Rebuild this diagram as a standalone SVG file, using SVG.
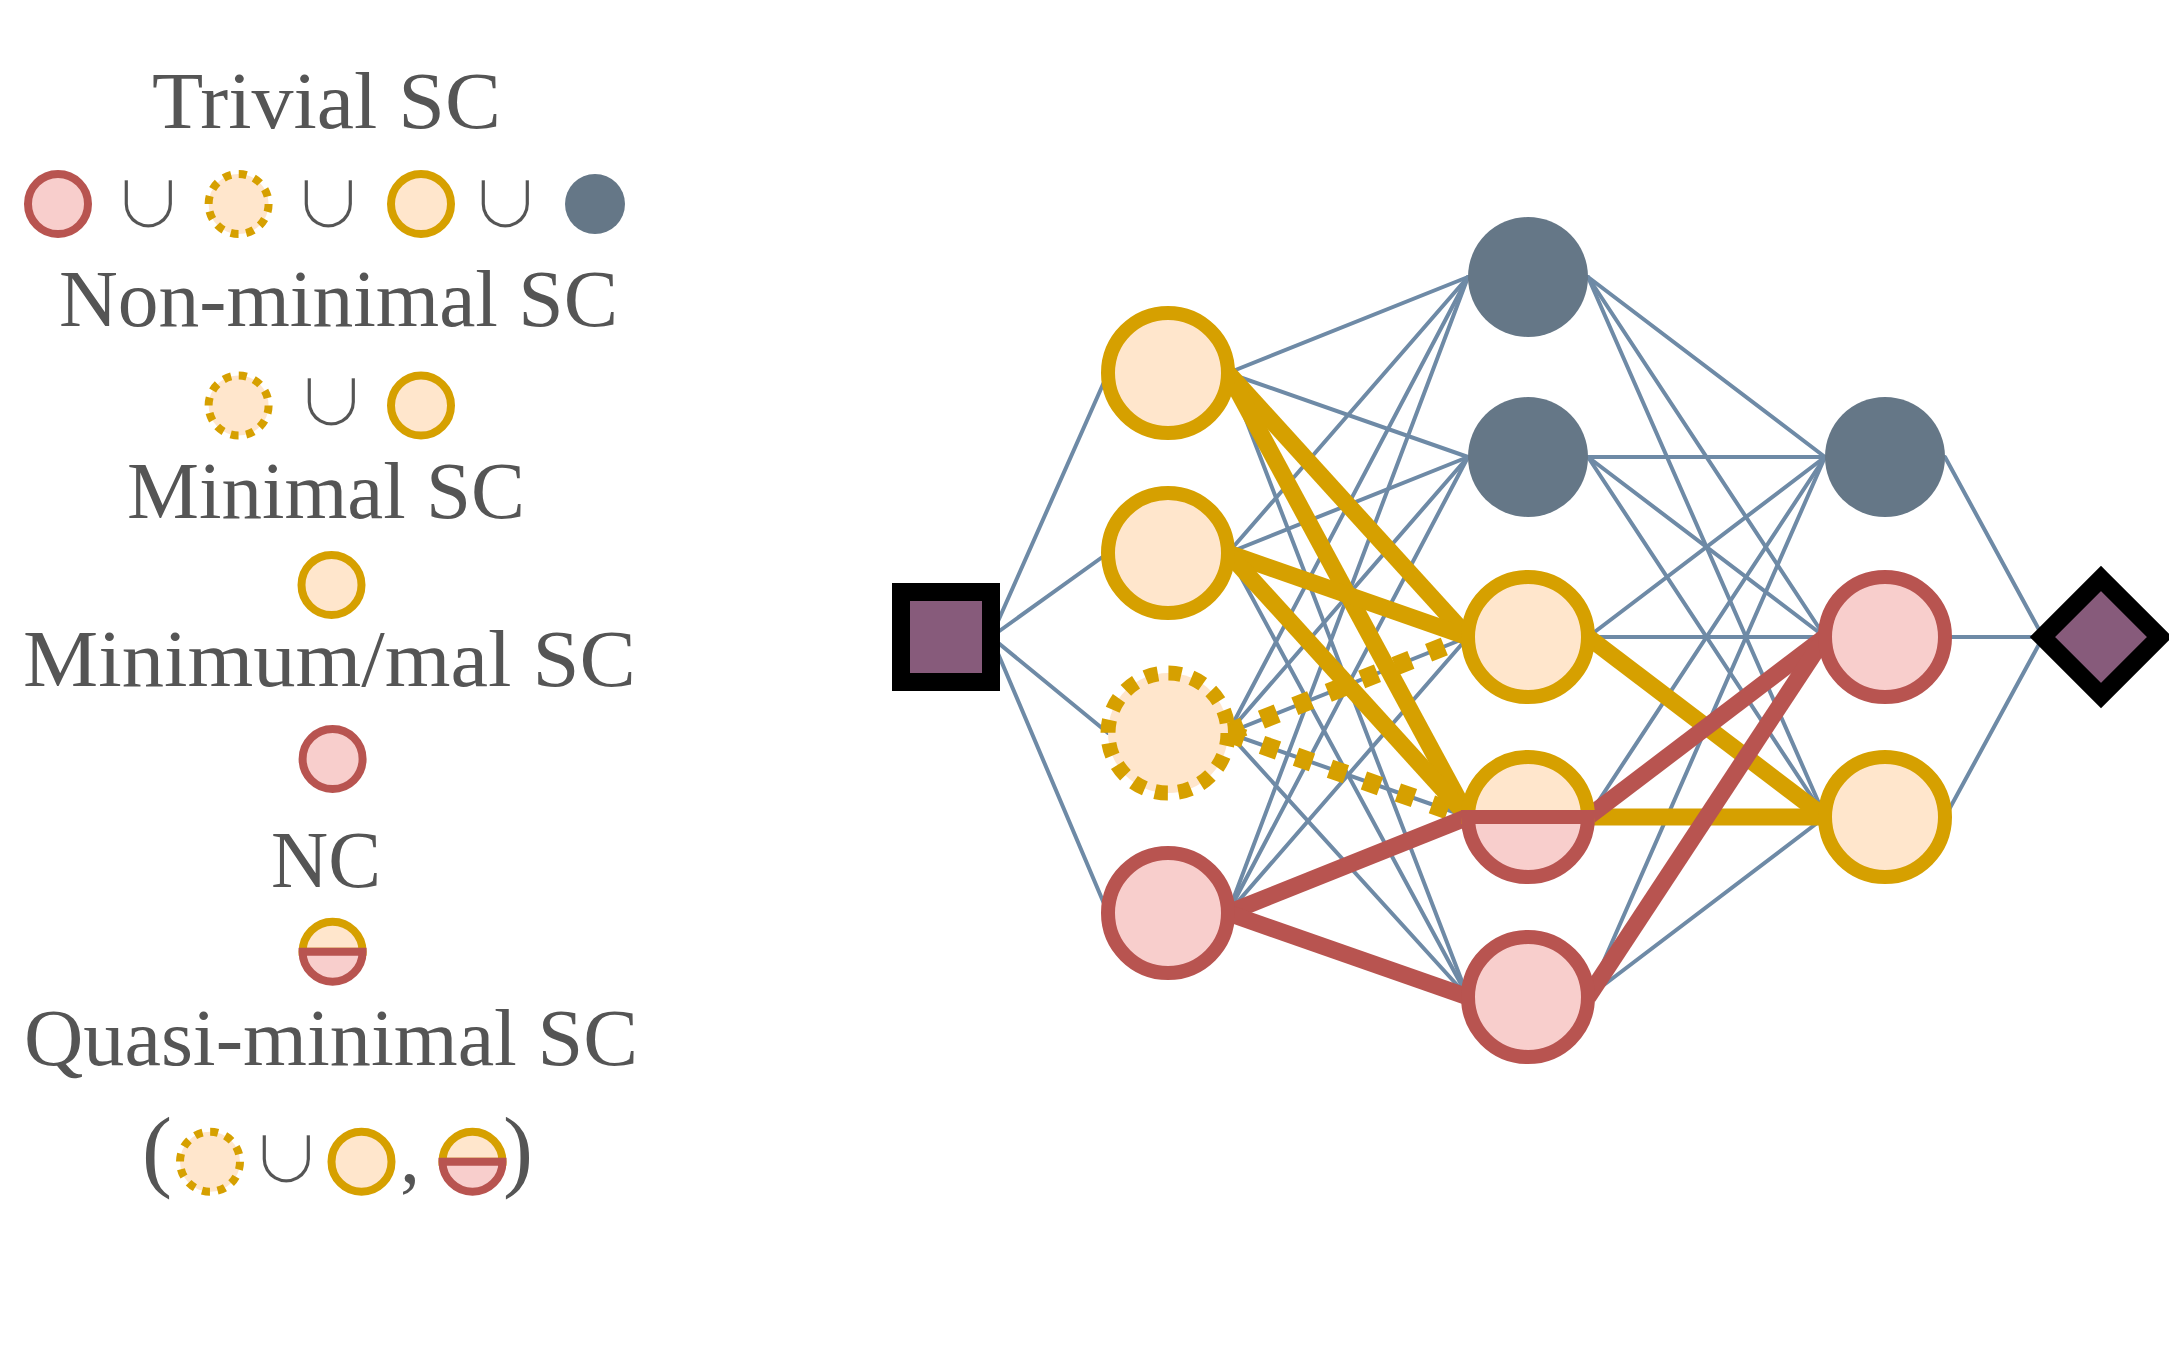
<svg xmlns="http://www.w3.org/2000/svg" width="2169" height="1347" viewBox="0 0 2169 1347">
<style>
.bg{fill:#ffffff}
.t{font-family:"Liberation Serif","DejaVu Serif",serif;font-size:80px;fill:#555555}
.cup{font-family:"DejaVu Sans","DejaVu Serif",sans-serif;font-weight:200;font-size:80px;fill:#555555;text-anchor:middle;stroke:#ffffff;stroke-width:3}
.e{stroke:#6e8aa6;stroke-width:4;fill:none;stroke-linecap:round}
.ho{stroke:#d6a000;stroke-width:17;fill:none}
.hd{stroke:#d6a000;stroke-width:19;fill:none;stroke-dasharray:17 19}
.hr{stroke:#b85450;stroke-width:17;fill:none}
.gray{fill:#657787}
.org{fill:#ffe6cc;stroke:#d6a000;stroke-width:14}
.orgd{fill:#ffe6cc;stroke:#d6a000;stroke-width:15;stroke-dasharray:13 10.56}
.red{fill:#f8cecc;stroke:#b85450;stroke-width:14}
.lorg{fill:#ffe6cc;stroke:#d6a000;stroke-width:8}
.lorgd{fill:#ffe6cc;stroke:#d6a000;stroke-width:8;stroke-dasharray:8 7.7}
.lred{fill:#f8cecc;stroke:#b85450;stroke-width:8}
.io{fill:#875b7b;stroke:#000000;stroke-width:18}
</style>
<rect class="bg" x="0" y="0" width="2169" height="1347"/>

<g id="legend">
  <text class="t" x="152" y="128" textLength="349" lengthAdjust="spacingAndGlyphs">Trivial SC</text>
  <circle class="lred" cx="58" cy="204" r="30"/>
  <text class="cup" x="148" y="228">∪</text>
  <circle class="lorgd" cx="238.6" cy="204" r="30"/>
  <text class="cup" x="328" y="228">∪</text>
  <circle class="lorg" cx="421" cy="204" r="30"/>
  <text class="cup" x="505" y="228">∪</text>
  <circle class="gray" cx="595" cy="204" r="30"/>

  <text class="t" x="59" y="326" textLength="559" lengthAdjust="spacingAndGlyphs">Non-minimal SC</text>
  <circle class="lorgd" cx="238.6" cy="405.5" r="30"/>
  <text class="cup" x="331" y="426">∪</text>
  <circle class="lorg" cx="421" cy="405.5" r="30"/>

  <text class="t" x="127" y="518" textLength="398" lengthAdjust="spacingAndGlyphs">Minimal SC</text>
  <circle class="lorg" cx="331.5" cy="585" r="30"/>

  <text class="t" x="23" y="686" textLength="613" lengthAdjust="spacingAndGlyphs">Minimum/mal SC</text>
  <circle class="lred" cx="332.6" cy="759" r="30"/>

  <text class="t" x="271" y="887" textLength="110" lengthAdjust="spacingAndGlyphs">NC</text>
  <g id="legend-nc">
    <path class="lorg" d="M302.6,951.7 A30,30 0 0 1 362.6,951.7 Z"/>
    <path class="lred" d="M302.6,951.7 A30,30 0 0 0 362.6,951.7 Z"/>
  </g>

  <text class="t" x="24" y="1065" textLength="614" lengthAdjust="spacingAndGlyphs">Quasi-minimal SC</text>
  <text class="t" x="142" y="1180" style="font-size:90px">(</text>
  <circle class="lorgd" cx="210" cy="1161.7" r="30"/>
  <text class="cup" x="286" y="1183">∪</text>
  <circle class="lorg" cx="361.5" cy="1161.7" r="30"/>
  <text class="t" x="400" y="1182">,</text>
  <g id="legend-nc2">
    <path class="lorg" d="M442.5,1161.7 A30,30 0 0 1 502.5,1161.7 Z"/>
    <path class="lred" d="M442.5,1161.7 A30,30 0 0 0 502.5,1161.7 Z"/>
  </g>
  <text class="t" x="503" y="1180" style="font-size:90px">)</text>
</g>

<g id="connectors">
  <line class="e" x1="991" y1="637" x2="1108" y2="373"/>
  <line class="e" x1="991" y1="637" x2="1108" y2="553"/>
  <line class="e" x1="991" y1="637" x2="1108" y2="733"/>
  <line class="e" x1="991" y1="637" x2="1108" y2="913"/>
  <line class="e" x1="1228" y1="373" x2="1468" y2="277"/>
  <line class="e" x1="1228" y1="373" x2="1468" y2="457"/>
  <line class="e" x1="1228" y1="373" x2="1468" y2="637"/>
  <line class="e" x1="1228" y1="373" x2="1468" y2="817"/>
  <line class="e" x1="1228" y1="373" x2="1468" y2="997"/>
  <line class="e" x1="1228" y1="553" x2="1468" y2="277"/>
  <line class="e" x1="1228" y1="553" x2="1468" y2="457"/>
  <line class="e" x1="1228" y1="553" x2="1468" y2="637"/>
  <line class="e" x1="1228" y1="553" x2="1468" y2="817"/>
  <line class="e" x1="1228" y1="553" x2="1468" y2="997"/>
  <line class="e" x1="1228" y1="733" x2="1468" y2="277"/>
  <line class="e" x1="1228" y1="733" x2="1468" y2="457"/>
  <line class="e" x1="1228" y1="733" x2="1468" y2="637"/>
  <line class="e" x1="1228" y1="733" x2="1468" y2="817"/>
  <line class="e" x1="1228" y1="733" x2="1468" y2="997"/>
  <line class="e" x1="1228" y1="913" x2="1468" y2="277"/>
  <line class="e" x1="1228" y1="913" x2="1468" y2="457"/>
  <line class="e" x1="1228" y1="913" x2="1468" y2="637"/>
  <line class="e" x1="1228" y1="913" x2="1468" y2="817"/>
  <line class="e" x1="1228" y1="913" x2="1468" y2="997"/>
  <line class="e" x1="1588" y1="277" x2="1825" y2="457"/>
  <line class="e" x1="1588" y1="277" x2="1825" y2="637"/>
  <line class="e" x1="1588" y1="277" x2="1825" y2="817"/>
  <line class="e" x1="1588" y1="457" x2="1825" y2="457"/>
  <line class="e" x1="1588" y1="457" x2="1825" y2="637"/>
  <line class="e" x1="1588" y1="457" x2="1825" y2="817"/>
  <line class="e" x1="1588" y1="637" x2="1825" y2="457"/>
  <line class="e" x1="1588" y1="637" x2="1825" y2="637"/>
  <line class="e" x1="1588" y1="637" x2="1825" y2="817"/>
  <line class="e" x1="1588" y1="817" x2="1825" y2="457"/>
  <line class="e" x1="1588" y1="817" x2="1825" y2="637"/>
  <line class="e" x1="1588" y1="817" x2="1825" y2="817"/>
  <line class="e" x1="1588" y1="997" x2="1825" y2="457"/>
  <line class="e" x1="1588" y1="997" x2="1825" y2="637"/>
  <line class="e" x1="1588" y1="997" x2="1825" y2="817"/>
  <line class="e" x1="1945" y1="457" x2="2043" y2="637"/>
  <line class="e" x1="1945" y1="637" x2="2043" y2="637"/>
  <line class="e" x1="1945" y1="817" x2="2043" y2="637"/>
  <line class="hd" x1="1228" y1="733" x2="1468" y2="637"/>
  <line class="hd" x1="1228" y1="733" x2="1468" y2="817"/>
  <line class="ho" x1="1228" y1="373" x2="1468" y2="637"/>
  <line class="ho" x1="1228" y1="373" x2="1468" y2="817"/>
  <line class="ho" x1="1228" y1="553" x2="1468" y2="637"/>
  <line class="ho" x1="1228" y1="553" x2="1468" y2="817"/>
  <line class="ho" x1="1588" y1="637" x2="1825" y2="817"/>
  <line class="ho" x1="1588" y1="817" x2="1825" y2="817"/>
  <line class="hr" x1="1228" y1="913" x2="1468" y2="817"/>
  <line class="hr" x1="1228" y1="913" x2="1468" y2="997"/>
  <line class="hr" x1="1588" y1="817" x2="1825" y2="637"/>
  <line class="hr" x1="1588" y1="997" x2="1825" y2="637"/>
</g>

<g id="input"><rect class="io" x="901" y="592" width="90" height="90"/></g>

<g id="l1n1"><circle class="org" cx="1168" cy="373" r="60"/></g>
<g id="l1n2"><circle class="org" cx="1168" cy="553" r="60"/></g>
<g id="l1n3"><circle class="orgd" cx="1168" cy="733" r="60"/></g>
<g id="l1n4"><circle class="red" cx="1168" cy="913" r="60"/></g>

<g id="l2n1"><circle class="gray" cx="1528" cy="277" r="60"/></g>
<g id="l2n2"><circle class="gray" cx="1528" cy="457" r="60"/></g>
<g id="l2n3"><circle class="org" cx="1528" cy="637" r="60"/></g>
<g id="l2n4">
  <path class="org" d="M1468,817 A60,60 0 0 1 1588,817 Z"/>
  <path class="red" d="M1468,817 A60,60 0 0 0 1588,817 Z"/>
</g>
<g id="l2n5"><circle class="red" cx="1528" cy="997" r="60"/></g>

<g id="l3n1"><circle class="gray" cx="1885" cy="457" r="60"/></g>
<g id="l3n2"><circle class="red" cx="1885" cy="637" r="60"/></g>
<g id="l3n3"><circle class="org" cx="1885" cy="817" r="60"/></g>

<g id="output"><path class="io" d="M2101,578.5 L2159.5,637 L2101,695.5 L2042.5,637 Z"/></g>
</svg>
